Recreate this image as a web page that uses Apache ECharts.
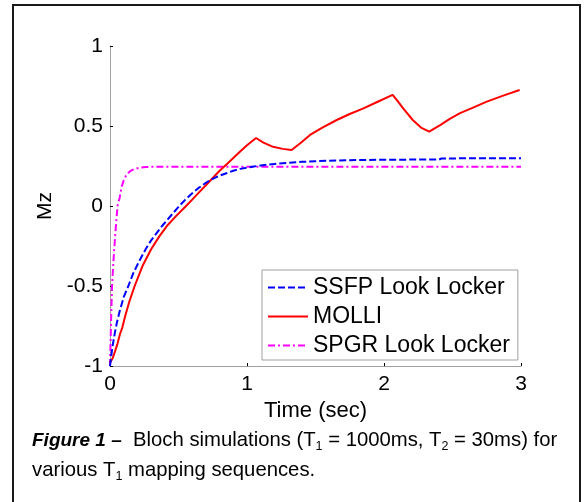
<!DOCTYPE html>
<html>
<head>
<meta charset="utf-8">
<script src="https://cdn.jsdelivr.net/npm/echarts@6/dist/echarts.min.js"></script>
<style>
html,body{margin:0;padding:0;background:#fff;}
#chart{width:586px;height:502px;}
</style>
</head>
<body>
<div id="chart"></div>
<script>
// ---- data ----
const seriesNames = ['SSFP Look Locker', 'MOLLI', 'SPGR Look Locker'];
const xTicks = ['0', '1', '2', '3'];
const yTicks = ['-1', '-0.5', '0', '0.5', '1'];

const ssfpT = [0, 0.01, 0.02, 0.036, 0.05, 0.07, 0.1, 0.134, 0.17, 0.21, 0.26, 0.3, 0.34, 0.38, 0.42, 0.46, 0.5, 0.55, 0.6, 0.65, 0.7, 0.75, 0.8, 0.85, 0.9, 0.95, 1.0, 1.05, 1.1, 1.2, 1.3, 1.4, 1.5, 1.6, 1.8, 2.0, 2.2, 2.4, 2.42, 2.6, 2.8, 3.0];
const ssfpMz = [-1, -0.93, -0.87, -0.79, -0.73, -0.66, -0.57, -0.5, -0.42, -0.35, -0.27, -0.215, -0.17, -0.125, -0.085, -0.045, -0.005, 0.04, 0.08, 0.115, 0.145, 0.17, 0.19, 0.205, 0.22, 0.232, 0.24, 0.247, 0.253, 0.263, 0.27, 0.276, 0.28, 0.283, 0.287, 0.289, 0.29, 0.29, 0.297, 0.298, 0.298, 0.298];

const molliT = [0, 0.02, 0.036, 0.055, 0.073, 0.09, 0.11, 0.14, 0.18, 0.24, 0.3, 0.36, 0.42, 0.48, 0.555, 0.6, 0.65, 0.7, 0.75, 0.8, 0.85, 0.9, 0.95, 1.0, 1.066, 1.12, 1.19, 1.26, 1.326, 1.4, 1.46, 1.55, 1.655, 1.75, 1.85, 1.95, 2.063, 2.1, 2.14, 2.21, 2.27, 2.33, 2.41, 2.48, 2.555, 2.65, 2.75, 2.87, 2.99];
const molliMz = [-0.98, -0.95, -0.91, -0.86, -0.8, -0.76, -0.69, -0.6, -0.5, -0.37, -0.27, -0.19, -0.12, -0.065, 0, 0.04, 0.085, 0.13, 0.175, 0.22, 0.26, 0.3, 0.34, 0.38, 0.425, 0.396, 0.37, 0.357, 0.35, 0.4, 0.444, 0.49, 0.5375, 0.575, 0.61, 0.65, 0.694, 0.655, 0.61, 0.5375, 0.49, 0.465, 0.506, 0.545, 0.58, 0.615, 0.652, 0.69, 0.725];

const spgrT = [0, 0.005, 0.01, 0.015, 0.02, 0.03, 0.04, 0.055, 0.07, 0.085, 0.1, 0.12, 0.15, 0.18, 0.22, 0.26, 0.3, 0.5, 1.0, 1.5, 2.0, 2.5, 3.0];
const spgrMz = [-1, -0.82, -0.65, -0.5, -0.42, -0.28, -0.16, 0, 0.05, 0.12, 0.16, 0.195, 0.22, 0.232, 0.24, 0.244, 0.245, 0.245, 0.245, 0.245, 0.245, 0.245, 0.245];

const captionLine1 = ['Figure 1 –', '  Bloch simulations (T', '1', ' = 1000ms, T', '2', ' = 30ms) for'];
const captionLine2 = ['various T', '1', ' mapping sequences.'];

// ---- build ----
const zip = (a, b) => a.map((v, i) => [v, b[i]]);
const FONT = '"Liberation Sans", Arial, sans-serif';

const chart = echarts.init(document.getElementById('chart'), null, {renderer: 'canvas'});

const axisCommon = {
  axisLine: {show: true, onZero: false, lineStyle: {color: '#a0a0a0', width: 1}},
  axisTick: {show: true, inside: true, length: 3, lineStyle: {color: '#000', width: 1}},
  splitLine: {show: false},
  axisLabel: {color: '#000', fontSize: 21, fontFamily: FONT, margin: 7}
};

const option = {
  animation: false,
  backgroundColor: '#fff',
  grid: {left: 110, right: 65, top: 46, bottom: 136, containLabel: false},
  xAxis: Object.assign({}, axisCommon, {
    type: 'value', min: 0, max: 3, interval: 1,
    name: 'Time (sec)', nameLocation: 'middle', nameGap: 27,
    nameTextStyle: {color: '#000', fontSize: 22, fontFamily: FONT},
    axisLabel: Object.assign({}, axisCommon.axisLabel, {margin: 8, formatter: v => xTicks[Math.round(v)]})
  }),
  yAxis: Object.assign({}, axisCommon, {
    type: 'value', min: -1, max: 1, interval: 0.5,
    name: 'Mz', nameLocation: 'middle', nameGap: 53,
    nameTextStyle: {color: '#000', fontSize: 21, fontFamily: FONT},
    axisLabel: Object.assign({}, axisCommon.axisLabel, {formatter: v => yTicks[Math.round((v + 1) * 2)]})
  }),
  legend: {
    data: seriesNames,
    orient: 'vertical',
    left: 262, top: 270,
    padding: [6, 8, 3, 5],
    itemGap: 6,
    itemWidth: 40, itemHeight: 12,
    itemStyle: {opacity: 0},
    backgroundColor: '#fff',
    borderColor: '#a0a0a0', borderWidth: 1, borderRadius: 0,
    textStyle: {color: '#000', fontSize: 23, fontFamily: FONT}
  },
  series: [
    {name: seriesNames[0], type: 'line', data: zip(ssfpT, ssfpMz), symbol: 'none', showSymbol: false,
     lineStyle: {color: '#0000ff', width: 2, type: [7, 3]}, itemStyle: {color: '#0000ff'}, z: 3},
    {name: seriesNames[1], type: 'line', data: zip(molliT, molliMz), symbol: 'none', showSymbol: false,
     lineStyle: {color: '#ff0000', width: 2}, itemStyle: {color: '#ff0000'}, z: 2},
    {name: seriesNames[2], type: 'line', data: zip(spgrT, spgrMz), symbol: 'none', showSymbol: false,
     lineStyle: {color: '#ff00ff', width: 2, type: [7, 3, 2, 3]}, itemStyle: {color: '#ff00ff'}, z: 1}
  ],
  graphic: [
    {type: 'rect', shape: {x: 13, y: 5, width: 567, height: 510}, style: {fill: 'none', stroke: '#1a1a1a', lineWidth: 2}, z: 100},
    {type: 'text', left: 32, top: 428, z: 100,
     style: {
       text: '{b|' + captionLine1[0] + '}{n|' + captionLine1[1] + '}{s|' + captionLine1[2] + '}{n|' + captionLine1[3] + '}{s|' + captionLine1[4] + '}{n|' + captionLine1[5] + '}\n' +
             '{n|' + captionLine2[0] + '}{s|' + captionLine2[1] + '}{n|' + captionLine2[2] + '}',
       rich: {
         b: {fontSize: 19, fontWeight: 'bold', fontStyle: 'italic', fontFamily: FONT, fill: '#000', lineHeight: 30, verticalAlign: 'middle'},
         n: {fontSize: 20.3, fontFamily: FONT, fill: '#000', lineHeight: 30, verticalAlign: 'middle'},
         s: {fontSize: 12.5, fontFamily: FONT, fill: '#000', lineHeight: 30, padding: [12, 0, 0, 0], verticalAlign: 'middle'}
       }
     }}
  ]
};
chart.setOption(option);
</script>
</body>
</html>
